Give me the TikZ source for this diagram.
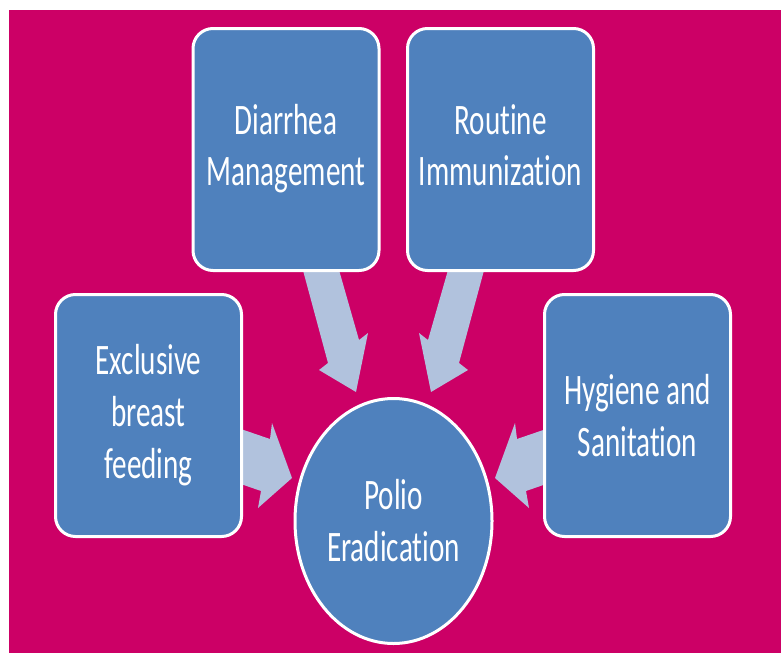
\documentclass[tikz,border=0pt]{standalone}
\usepackage{fontspec}
\usetikzlibrary{shapes.geometric}
\newfontfamily\boxfont[FakeStretch=0.67,Ligatures={NoCommon}]{Carlito}
\definecolor{bgmag}{HTML}{CC0066}
\definecolor{boxblue}{HTML}{4F81BD}
\definecolor{arrowblue}{HTML}{B1C2DD}
\tikzset{
  topicbox/.style={draw=white, line width=3pt, fill=boxblue, rounded corners=20pt,
    minimum width=186pt, minimum height=242pt, inner sep=0pt, align=center,
    text=white, font=\boxfont\fontsize{43.5}{52}\selectfont},
  goalnode/.style={ellipse, draw=white, line width=3pt, fill=boxblue,
    minimum width=197pt, minimum height=245pt, inner sep=0pt, align=center,
    text=white, font=\boxfont\fontsize{43.5}{52}\selectfont},
  blockarrow/.style={fill=arrowblue}
}
\begin{document}
\begin{tikzpicture}[x=1pt,y=-1pt]
\useasboundingbox (0,0) rectangle (781,653);
\fill[white] (0,0) rectangle (781,653);
\fill[bgmag] (9,10) rectangle (781,653);

% block arrows (drawn first, shafts tuck under the boxes)
\fill[blockarrow] (301,263) -- (328,363) -- (319,370) -- (356,392) -- (368,333) -- (359,340) -- (337,263) -- cycle;
\fill[blockarrow] (486,263) -- (459,363) -- (468,370) -- (431,392) -- (419,333) -- (428,340) -- (450,263) -- cycle;
\fill[blockarrow] (235,427) -- (270,439) -- (272,423) -- (292,478) -- (258,508) -- (261,491) -- (235,482) -- cycle;
\fill[blockarrow] (552,427) -- (517,439) -- (515,423) -- (495,478) -- (529,508) -- (526,491) -- (552,482) -- cycle;

\node[topicbox] (diar) at (286,149.5) {\raisebox{-4pt}{\begin{tabular}{@{}c@{}}Diarrhea\\[-1.5pt]Management\end{tabular}}};
\node[topicbox] (rout) at (500.5,149.5) {\raisebox{-4pt}{\begin{tabular}{@{}c@{}}Routine\\[-1.5pt]Immunization\end{tabular}}};
\node[topicbox] (excl) at (148.5,415.5) {Exclusive\\breast\\feeding};
\node[topicbox] (hyg) at (637.5,415.5) {Hygiene and\\Sanitation};
\node[goalnode] (polio) at (393.5,521) {Polio\\Eradication};
\end{tikzpicture}
\end{document}
